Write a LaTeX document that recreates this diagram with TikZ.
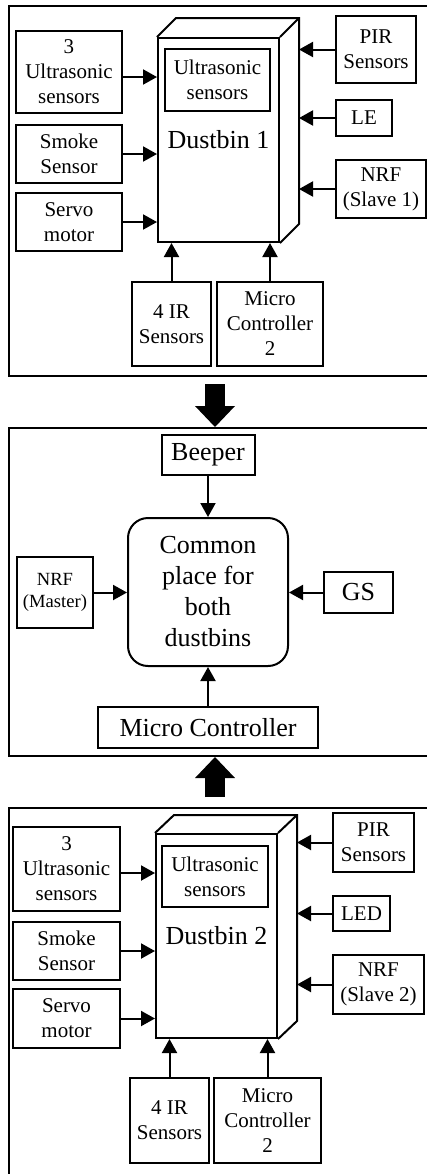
\documentclass[tikz,border=0pt]{standalone}
\usepackage{fontspec}
\setmainfont{Liberation Serif}
\usetikzlibrary{arrows.meta,fit,calc}

\begin{document}
\begin{tikzpicture}[x=0.5pt, y=-0.5pt, line width=1pt,
  every node/.style={align=center, inner sep=0pt, font=\fontsize{10.5}{12.5}\selectfont},
  box/.style={draw, rectangle},
  panel/.style={draw, rectangle, inner sep=0pt},
  big/.style={font=\fontsize{13}{15.5}\selectfont},
  link/.style={-{Triangle[length=7pt,width=7.5pt]}},
  bigarrow/.style={line width=10pt, -{Triangle[length=10.5pt,width=20pt,line width=0pt]}}]
  \useasboundingbox (0,0) rectangle (427,1174);

  \node[panel, fit={(9,6) (440,376)}] (panel1) {};
  \node[box, minimum width=53pt, minimum height=41pt] (us1) at (69,72) {3\\Ultrasonic\\sensors};
  \node[box, minimum width=53pt, minimum height=29pt] (sm1) at (69,154) {Smoke\\Sensor};
  \node[box, minimum width=53pt, minimum height=29pt] (sv1) at (69,222) {Servo\\motor};
  \node[box, big, minimum width=60.5pt, minimum height=102pt] (bin1) at (218.5,140) {Dustbin 1};
  \node[box, minimum width=52.5pt, minimum height=31pt] (in1) at (217.5,80) {Ultrasonic\\sensors};
  \node[box, minimum width=40pt, minimum height=33.5pt] (pir1) at (376,49.5) {PIR\\Sensors};
  \node[box, minimum width=28pt, minimum height=18pt] (le1) at (364,118) {LE};
  \node[box, minimum width=45pt, minimum height=29pt] (nrf1) at (381,189) {NRF\\(Slave 1)};
  \node[box, minimum width=39.5pt, minimum height=42pt] (ir1) at (171.5,324) {4 IR\\Sensors};
  \node[box, minimum width=53pt, minimum height=42pt] (mc1) at (270,324) {Micro\\Controller\\2};
  \draw (bin1.north west) -- ++(19,-19) -| ([shift={(19,-19)}]bin1.south east) -- (bin1.south east);
  \draw (bin1.north east) -- ++(19,-19);
  \coordinate (bk1) at ([shift={(19,-19)}]bin1.east);
  \draw[link] ([yshift=-2.5pt]us1.east) -- ([yshift=-2.5pt]us1.east -| bin1.west);
  \draw[link] (sm1.east) -- (sm1.east -| bin1.west);
  \draw[link] (sv1.east) -- (sv1.east -| bin1.west);
  \draw[link] (pir1.west) -- (pir1.west -| bk1);
  \draw[link] (le1.west) -- (le1.west -| bk1);
  \draw[link] (nrf1.west) -- (nrf1.west -| bk1);
  \draw[link] (ir1.north) -- (ir1.north |- bin1.south);
  \draw[link] (mc1.north) -- (mc1.north |- bin1.south);

  \node[panel, fit={(9,428) (440,756)}] (panel2) {};
  \node[box, big, minimum width=46.5pt, minimum height=20pt] (beep) at (208,455) {Beeper};
  \node[box, big, rounded corners=10pt, minimum width=80pt, minimum height=74pt] (common) at (208,592) {Common\\place for\\both\\dustbins};
  \node[box, font=\fontsize{9.3}{11}\selectfont, minimum width=38pt, minimum height=35.5pt] (nrfm) at (55,592.5) {NRF\\(Master)};
  \node[box, big, minimum width=34.5pt, minimum height=20.5pt] (gs) at (358.5,592.5) {GS};
  \node[box, big, minimum width=110pt, minimum height=20.5pt] (mc) at (208,727.5) {Micro Controller};
  \draw[link] (beep.south) -- (common.north);
  \draw[link] (nrfm.east) -- (nrfm.east -| common.west);
  \draw[link] (gs.west) -- (gs.west -| common.east);
  \draw[link] (mc.north) -- (common.south);

  \node[panel, fit={(9,808) (440,1190)}] (panel3) {};
  \node[box, minimum width=53.5pt, minimum height=42pt] (us2) at (66.5,869) {3\\Ultrasonic\\sensors};
  \node[box, minimum width=53.5pt, minimum height=29pt] (sm2) at (66.5,951) {Smoke\\Sensor};
  \node[box, minimum width=53.5pt, minimum height=29.5pt] (sv2) at (66.5,1018.5) {Servo\\motor};
  \node[box, big, minimum width=60.5pt, minimum height=102pt] (bin2) at (216.5,936) {Dustbin 2};
  \node[box, minimum width=53pt, minimum height=30.5pt] (in2) at (215,876.5) {Ultrasonic\\sensors};
  \node[box, minimum width=40.5pt, minimum height=29.5pt] (pir2) at (373.5,842.5) {PIR\\Sensors};
  \node[box, minimum width=28.5pt, minimum height=17.5pt] (led2) at (361.5,913.5) {LED};
  \node[box, minimum width=45.5pt, minimum height=29.5pt] (nrf2) at (378.5,984.5) {NRF\\(Slave 2)};
  \node[box, minimum width=39.5pt, minimum height=42.5pt] (ir2) at (169.5,1120.5) {4 IR\\Sensors};
  \node[box, minimum width=53.5pt, minimum height=42.5pt] (mc2) at (267.5,1120.5) {Micro\\Controller\\2};
  \draw (bin2.north west) -- ++(19,-18) -| ([shift={(19,-18)}]bin2.south east) -- (bin2.south east);
  \draw (bin2.north east) -- ++(19,-18);
  \coordinate (bk2) at ([shift={(19,-18)}]bin2.east);
  \draw[link] ([yshift=-2pt]us2.east) -- ([yshift=-2pt]us2.east -| bin2.west);
  \draw[link] (sm2.east) -- (sm2.east -| bin2.west);
  \draw[link] (sv2.east) -- (sv2.east -| bin2.west);
  \draw[link] (pir2.west) -- (pir2.west -| bk2);
  \draw[link] (led2.west) -- (led2.west -| bk2);
  \draw[link] (nrf2.west) -- (nrf2.west -| bk2);
  \draw[link] (ir2.north) -- (ir2.north |- bin2.south);
  \draw[link] (mc2.north) -- (mc2.north |- bin2.south);

  \coordinate (mid) at (215,0);
  \draw[bigarrow] ($(panel1.south -| mid)+(0,7)$) -- (panel2.north -| mid);
  \draw[bigarrow] ($(panel3.north -| mid)+(0,-10)$) -- (panel2.south -| mid);
\end{tikzpicture}
\end{document}
